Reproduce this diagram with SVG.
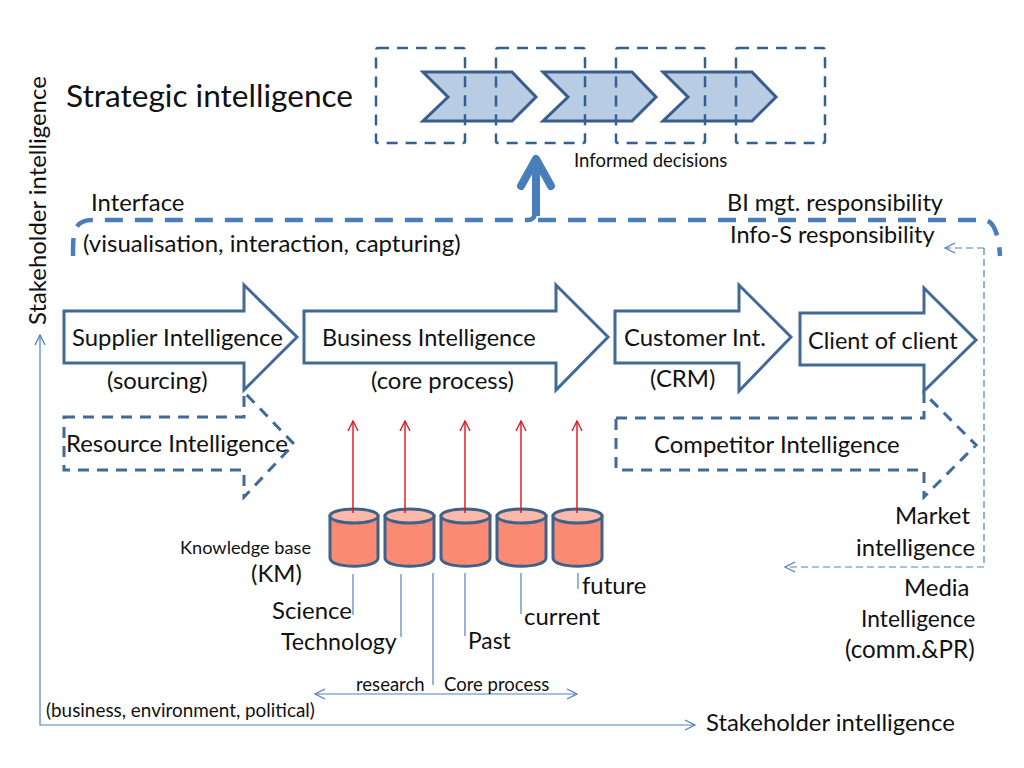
<svg xmlns="http://www.w3.org/2000/svg" width="1024" height="768" viewBox="0 0 1024 768">
<style>
text{font-family:Lato,"Liberation Sans",sans-serif;fill:#111;font-size:23.9px}
.n{font-size:23.5px}
.s{font-size:18.5px}
.big{font-size:31.6px}
.arr{fill:#fff;stroke:#416a96;stroke-width:3}
.dash{fill:none;stroke:#416a96;stroke-width:3;stroke-dasharray:11 8}
.box{fill:none;stroke:#33608f;stroke-width:2.5;stroke-dasharray:11 8}
.chev{fill:#b8cce4;stroke:#385d8a;stroke-width:3}
.thin{fill:none;stroke:#4f81bd;stroke-width:1.2}
.thinhead{fill:none;stroke:#4f81bd;stroke-width:1.2;marker-end:url(#open)}
.red{stroke:#e3101a;stroke-width:1.4;fill:none;marker-end:url(#redopen)}
.cyl{fill:#fa8a72;stroke:#3f6289;stroke-width:3}
.top{fill:#fcb9aa;stroke:#3f6289;stroke-width:3}
</style>
<defs>
<marker id="open" markerUnits="userSpaceOnUse" markerWidth="14" markerHeight="14" refX="11" refY="6" orient="auto-start-reverse"><path d="M1 1L11 6L1 11" fill="none" stroke="#4f81bd" stroke-width="1.3"/></marker>
<marker id="redopen" markerUnits="userSpaceOnUse" markerWidth="14" markerHeight="14" refX="11" refY="6" orient="auto"><path d="M1 1L11 6L1 11" fill="none" stroke="#e3101a" stroke-width="1.3"/></marker>
</defs>
<g id="chevrons">
<path class="chev" d="M423 72H512L536 97L512 121H423L448 97Z"/>
<path class="chev" d="M543 72H632L656 97L632 121H543L568 97Z"/>
<path class="chev" d="M663 72H752L776 97L752 121H663L688 97Z"/>
</g>
<g id="decision-boxes">
<rect class="box" x="376" y="48" width="89" height="95" rx="2"/>
<rect class="box" x="496" y="48" width="89" height="95" rx="2"/>
<rect class="box" x="616" y="48" width="89" height="95" rx="2"/>
<rect class="box" x="736" y="48" width="89" height="95" rx="2"/>
</g>
<g id="supplier"><path class="arr" d="M64 311H244V285L297 337L244 390V363H64Z"/>
<text x="72" y="346">Supplier Intelligence</text><text x="107" y="389">(sourcing)</text></g>
<g id="business"><path class="arr" d="M304 311H556V285L608 337L556 390V363H304Z"/>
<text x="322" y="346" class="n">Business Intelligence</text><text x="371" y="389">(core process)</text></g>
<g id="customer"><path class="arr" d="M615 311H739V285L791 337L739 391V363H615Z"/>
<text x="624" y="346">Customer Int.</text><text x="650" y="387">(CRM)</text></g>
<g id="client"><path class="arr" d="M800 313H924V288L976 340L924 391V365H800Z"/>
<text x="808" y="349" class="n">Client of client</text></g>
<g id="resource"><path class="dash" d="M64 417H244V392L294 444L244 497V470H64Z"/>
<text x="66" y="452">Resource Intelligence</text></g>
<g id="competitor"><path class="dash" d="M616 418H924V393L976 445L924 497V470H616Z"/>
<text x="654" y="453">Competitor Intelligence</text></g>
<g id="knowledge-base">
<path class="cyl" d="M330 516V558C330 569 378 569 378 558V516Z"/><ellipse class="top" cx="354" cy="516" rx="24" ry="7"/>
<path class="cyl" d="M385 516V558C385 569 434 569 434 558V516Z"/><ellipse class="top" cx="409.500" cy="516" rx="24.500" ry="7"/>
<path class="cyl" d="M441 516V558C441 569 490 569 490 558V516Z"/><ellipse class="top" cx="465.500" cy="516" rx="24.500" ry="7"/>
<path class="cyl" d="M497 516V558C497 569 546 569 546 558V516Z"/><ellipse class="top" cx="521.500" cy="516" rx="24.500" ry="7"/>
<path class="cyl" d="M553 516V558C553 569 602 569 602 558V516Z"/><ellipse class="top" cx="577.500" cy="516" rx="24.500" ry="7"/>
<text x="180" y="554" style="font-size:18.200px">Knowledge base</text><text x="251" y="582">(KM)</text>
</g>
<g id="connectors">
<path d="M536 216V162" fill="none" stroke="#4a7ebb" stroke-width="8"/>
<path d="M521 186L536 159L551 186" fill="none" stroke="#4a7ebb" stroke-width="8" stroke-linecap="round" stroke-linejoin="round"/>
<path d="M73 256C73 234 73 220 92 220H528Q534 220 535 214" fill="none" stroke="#4a7ebb" stroke-width="4.500" stroke-dasharray="18 12"/>
<path d="M538 220H985Q998 222 1000 256" fill="none" stroke="#4a7ebb" stroke-width="4.500" stroke-dasharray="18 12"/>
<path class="thinhead" stroke-dasharray="7 4" d="M984 248V567H785"/>
<path class="thinhead" stroke-dasharray="7 4" d="M984 248H945"/>
<path class="thin" d="M353 574V615"/>
<path class="thin" d="M401 574V637"/>
<path class="thin" d="M433 573V685"/>
<path class="thin" d="M465 573V636"/>
<path class="thin" d="M521 573V614"/>
<path class="thin" d="M578 573V589"/>
<path class="thinhead" d="M315 694H577" style="marker-start:url(#open)"/>
<path class="thinhead" d="M40 335V725H695" style="marker-start:url(#open)"/>
<path class="red" d="M353 513V421"/>
<path class="red" d="M405 513V421"/>
<path class="red" d="M465 513V421"/>
<path class="red" d="M521 513V421"/>
<path class="red" d="M577 513V421"/>
</g>
<g id="labels">
<text class="big" x="66" y="107">Strategic intelligence</text>
<text class="s" x="574" y="167">Informed decisions</text>
<text x="91" y="211">Interface</text>
<text x="83" y="252" style="font-size:24px">(visualisation, interaction, capturing)</text>
<text class="n" x="727" y="211">BI mgt. responsibility</text>
<text class="n" x="730" y="243">Info-S responsibility</text>
<text transform="translate(46 325) rotate(-90)">Stakeholder intelligence</text>
<text x="895" y="524">Market</text>
<text x="856" y="556">intelligence</text>
<text x="904" y="596">Media</text>
<text x="861" y="627" style="font-size:22.800px">Intelligence</text>
<text x="845" y="658" style="font-size:24.200px">(comm.&amp;PR)</text>
<text x="272" y="619">Science</text>
<text class="n" x="281" y="650" style="font-size:23.200px">Technology</text>
<text class="n" x="468" y="649" style="font-size:22.800px">Past</text>
<text x="524" y="625">current</text>
<text x="582" y="594">future</text>
<text class="s" x="356" y="691">research</text>
<text class="s" x="444" y="691">Core process</text>
<text x="46" y="717" style="font-size:18.900px">(business, environment, political)</text>
<text x="706" y="731">Stakeholder intelligence</text>
</g>
</svg>
